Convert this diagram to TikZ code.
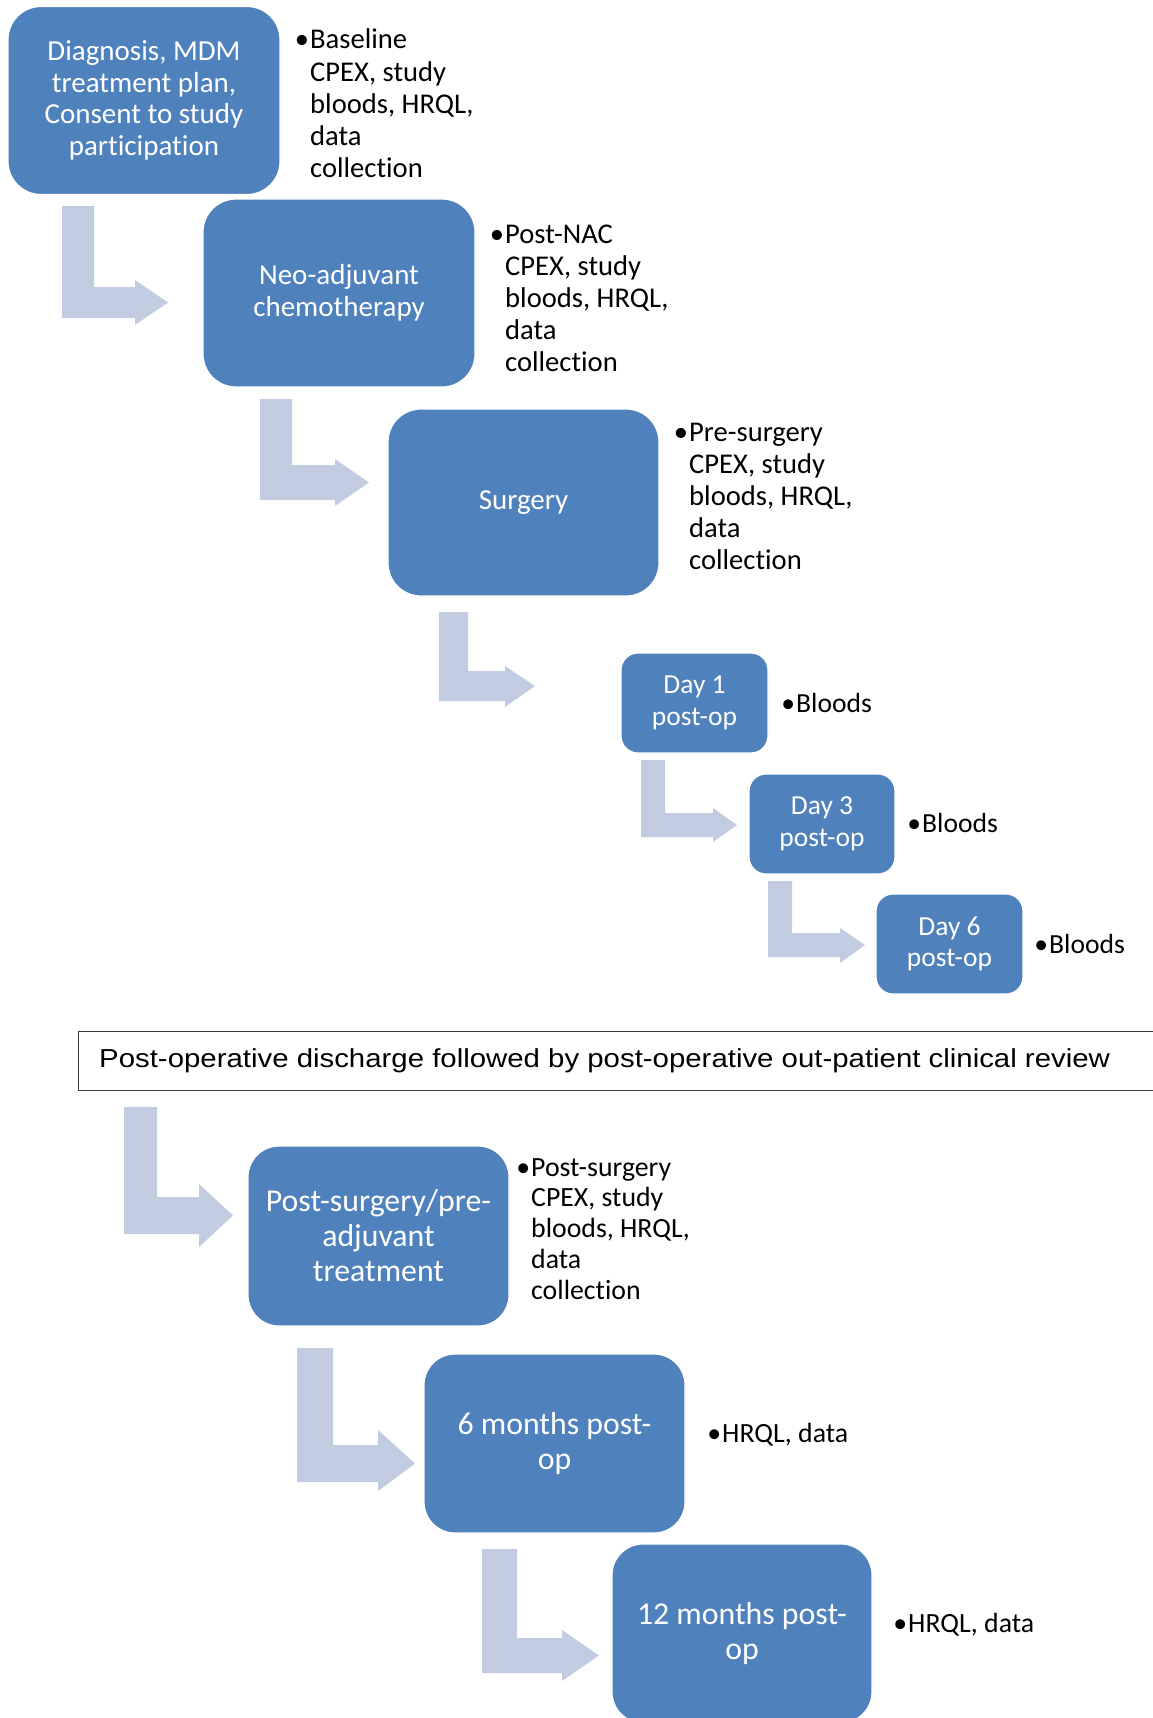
\documentclass[tikz,border=0pt]{standalone}
\usepackage{fontspec}
\usepackage{graphicx}
\setmainfont{Carlito}[Ligatures=NoCommon]
\newfontfamily\bannerfont{Liberation Sans}

\definecolor{boxblue}{HTML}{4F81BD}
\definecolor{arrowblue}{RGB}{193,204,225}
\definecolor{framegray}{HTML}{3A3A3A}

% left-aligned block of lines whose baseline is the first line
\newcommand\itemlines[1]{\vtop{\halign{##\hfil\cr#1\crcr}}}
\newcommand\bul{\llap{•\kern1pt}}

% bent block arrow: bar x0,x1; top y0; arm y-range yh0,yh1; head start xh; head y-range yt,yb; tip x
\newcommand\bentarrow[9]{%
  \fill[arrowblue] (#1,#3) -- (#2,#3) -- (#2,#4) -- (#6,#4) -- (#6,#7)
    -- (#9,{(#4+#5)/2}) -- (#6,#8) -- (#6,#5) -- (#1,#5) -- cycle;}

\begin{document}
\begin{tikzpicture}[x=1pt,y=-1pt,
  stage/.style={fill=boxblue, draw=white, line width=1.2pt, text=white,
    align=center, inner sep=0pt},
  bigstage/.style={stage, minimum width=272pt, minimum height=188pt,
    rounded corners=33pt, font=\fontsize{29}{31.7}\selectfont},
  daystage/.style={stage, minimum width=147pt, minimum height=100pt,
    rounded corners=17pt, font=\fontsize{27.5}{31.5}\selectfont},
  latestage/.style={stage, minimum width=261pt, minimum height=179pt,
    rounded corners=31pt, font=\fontsize{31.8}{35}\selectfont},
  notes/.style={anchor=base west, inner sep=0pt, text=black,
    font=\fontsize{28.6}{32.2}\selectfont},
  latenotes/.style={notes, font=\fontsize{27.8}{30.8}\selectfont},
  daynotes/.style={notes, font=\fontsize{27.6}{31}\selectfont}]
\useasboundingbox (0,0) rectangle (1153,1718);

% stages before and around surgery
\node[bigstage] (diag) at (144,100.5) {Diagnosis, MDM\\treatment plan,\\Consent to study\\participation};
\node[bigstage] (neo) at (339,293) {Neo-adjuvant\\chemotherapy};
\node[bigstage, minimum width=271pt, minimum height=187pt] (surg) at (523.5,502.5) {Surgery};
\node[daystage] (day1) at (694.5,703) {Day 1\\post-op};
\node[daystage, minimum width=146pt] (day3) at (822,824) {Day 3\\post-op};
\node[daystage] (day6) at (949.5,944) {Day 6\\post-op};

% assessments next to each stage
\node[notes] (diagnotes) at (310,49) {\itemlines{\bul Baseline\cr CPEX, study\cr bloods, HRQL,\cr data\cr collection}};
\node[notes] (neonotes) at (505,243) {\itemlines{\bul Post-NAC\cr CPEX, study\cr bloods, HRQL,\cr data\cr collection}};
\node[notes] (surgnotes) at (689,441) {\itemlines{\bul Pre-surgery\cr CPEX, study\cr bloods, HRQL,\cr data\cr collection}};
\node[daynotes] (day1notes) at (796,712) {\bul Bloods};
\node[daynotes] (day3notes) at (922,832) {\bul Bloods};
\node[daynotes] (day6notes) at (1049,953) {\bul Bloods};

% bent arrows between stages
\bentarrow{62}{94}{206}{287}{318}{135}{280}{325}{168}
\bentarrow{260}{292}{399}{465}{500}{335}{459}{506}{369}
\bentarrow{439}{468}{612}{671}{701}{505}{666}{707}{535}
\bentarrow{641}{665}{760}{813}{837}{713}{808}{842}{737}
\bentarrow{768}{792}{881}{933}{957}{840}{928}{963}{865}

% discharge banner
\node[draw=framegray, line width=1.3pt, anchor=north west, minimum width=1102pt,
  minimum height=59pt, inner sep=0pt] (banner) at (78,1031) {};
\node[anchor=west, inner sep=0pt] (bannertext) at (99,1061)
  {\bannerfont\fontsize{26}{30}\selectfont\scalebox{1.13}[1]{Post-operative discharge followed by post-operative out-patient clinical review}};

% follow-up stages
\node[latestage, minimum height=180pt] (post) at (378.5,1236) {Post-surgery/pre-\\adjuvant\\treatment};
\node[latestage] (six) at (554.5,1443.5) {6 months post-\\op};
\node[latestage, minimum width=260pt] (twelve) at (742,1633.5) {12 months post-\\op};

\node[latenotes] (postnotes) at (531,1176) {\itemlines{\bul Post-surgery\cr CPEX, study\cr bloods, HRQL,\cr data\cr collection}};
\node[latenotes] (sixnotes) at (722,1442) {\bul HRQL, data};
\node[latenotes] (twelvenotes) at (908,1632) {\bul HRQL, data};

\bentarrow{124}{157}{1107}{1197}{1234}{199}{1184}{1247}{233}
\bentarrow{297}{333}{1348}{1445}{1482}{378}{1430}{1491}{415}
\bentarrow{482}{517}{1549}{1638}{1673}{562}{1630}{1681}{599}
\end{tikzpicture}
\end{document}
